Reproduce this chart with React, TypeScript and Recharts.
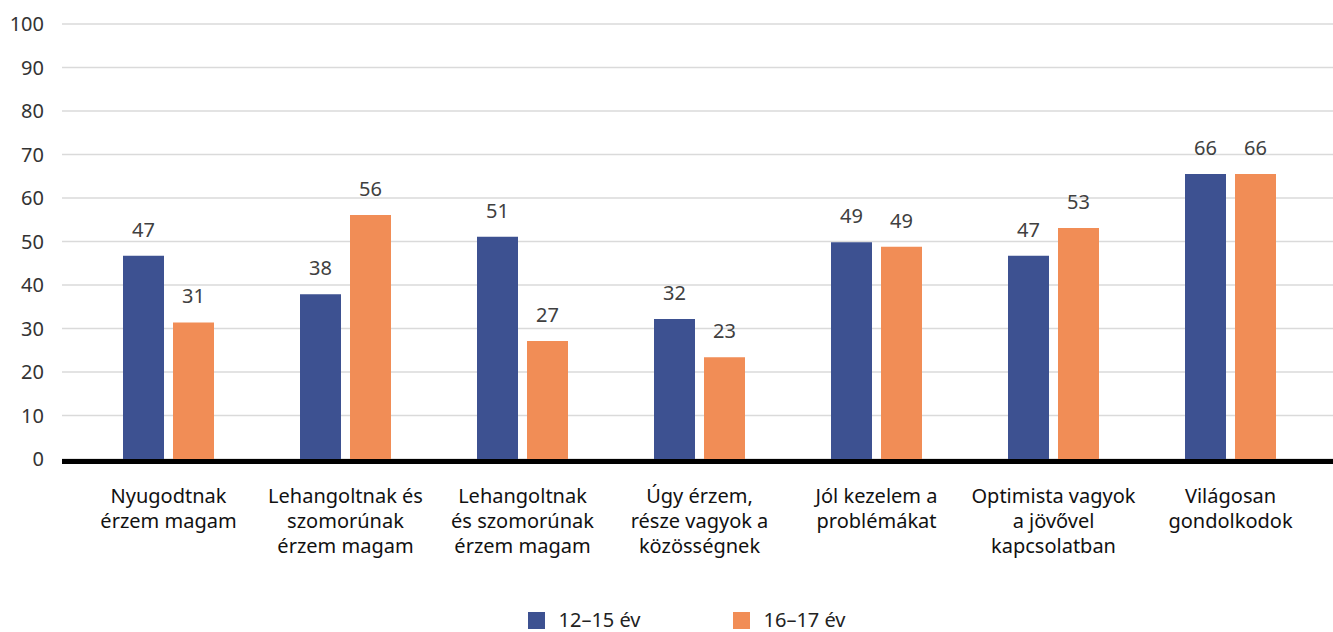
import React from "react";
import { BarChart, Bar, XAxis, YAxis, CartesianGrid, LabelList, Legend } from "recharts";

const categories = [
  "Nyugodtnak\nérzem magam",
  "Lehangoltnak és\nszomorúnak\nérzem magam",
  "Lehangoltnak\nés szomorúnak\nérzem magam",
  "Úgy érzem,\nrésze vagyok a\nközösségnek",
  "Jól kezelem a\nproblémákat",
  "Optimista vagyok\na jövővel\nkapcsolatban",
  "Világosan\ngondolkodok",
];
const series1Name = "12–15 év";
const series2Name = "16–17 év";
const values1 = [46.7, 37.9, 51.1, 32.2, 49.8, 46.7, 65.5];
const values2 = [31.4, 56.1, 27.1, 23.4, 48.8, 53.1, 65.5];
const labels1 = [47, 38, 51, 32, 49, 47, 66];
const labels2 = [31, 56, 27, 23, 49, 53, 66];
const yTicks = [0, 10, 20, 30, 40, 50, 60, 70, 80, 90, 100];

const BLUE = "#3D5191";
const ORANGE = "#F18D56";
const FONT = "'Noto Sans', sans-serif";

const data = categories.map((c, i) => ({
  name: c,
  v1: values1[i],
  v2: values2[i],
  l1: labels1[i],
  l2: labels2[i],
}));

const CatTick = (props: any) => {
  const { x, y, payload } = props;
  const lines = String(payload.value).split("\n");
  return (
    <text x={x} y={y} textAnchor="middle" fontSize={20} fill="#111" fontFamily={FONT}>
      {lines.map((l: string, i: number) => (
        <tspan key={i} x={x} dy={i === 0 ? 44 : 25}>
          {l}
        </tspan>
      ))}
    </text>
  );
};

const LegendContent = () => {
  const items = [
    { name: series1Name, color: BLUE },
    { name: series2Name, color: ORANGE },
  ];
  return (
    <div
      style={{
        display: "flex",
        justifyContent: "center",
        alignItems: "center",
        height: 22,
        paddingLeft: 40,
        fontFamily: FONT,
        fontSize: 20,
        color: "#222",
      }}
    >
      {items.map((it, i) => (
        <div key={i} style={{ display: "flex", alignItems: "center", marginLeft: i === 0 ? 0 : 92 }}>
          <div style={{ width: 17, height: 17, background: it.color, marginRight: 14 }} />
          <span style={{ lineHeight: "22px" }}>{it.name}</span>
        </div>
      ))}
    </div>
  );
};

export default function App() {
  return (
    <div style={{ position: "absolute", left: 0, top: 0, width: 1333, height: 632, background: "#fff" }}>
      <BarChart
        width={1333}
        height={632}
        data={data}
        margin={{ top: 24, right: 0, bottom: 0, left: 0 }}
        barSize={41}
        barGap={9}
      >
        <CartesianGrid horizontal={true} vertical={false} stroke="#DADADA" strokeWidth={1.3} />
        <YAxis
          domain={[0, 100]}
          ticks={yTicks}
          width={62}
          axisLine={false}
          tickLine={false}
          tickMargin={12}
          tick={{ fontSize: 20, fill: "#333", fontFamily: FONT }}
          interval={0}
        />
        <XAxis
          dataKey="name"
          interval={0}
          padding={{ left: 18, right: 14 }}
          height={151}
          tickLine={false}
          tickSize={0}
          tickMargin={0}
          axisLine={{ stroke: "#000", strokeWidth: 5, transform: "translate(0,2.5)" } as any}
          tick={<CatTick />}
        />
        <Legend
          verticalAlign="bottom"
          content={<LegendContent />}
          wrapperStyle={{ position: "absolute", top: 609, left: 0, width: 1333, height: 22 }}
        />
        <Bar dataKey="v1" name={series1Name} fill={BLUE} isAnimationActive={false}>
          <LabelList dataKey="l1" position="top" offset={19} fill="#404040" fontSize={20} fontFamily={FONT} />
        </Bar>
        <Bar dataKey="v2" name={series2Name} fill={ORANGE} isAnimationActive={false}>
          <LabelList dataKey="l2" position="top" offset={19} fill="#404040" fontSize={20} fontFamily={FONT} />
        </Bar>
      </BarChart>
    </div>
  );
}
